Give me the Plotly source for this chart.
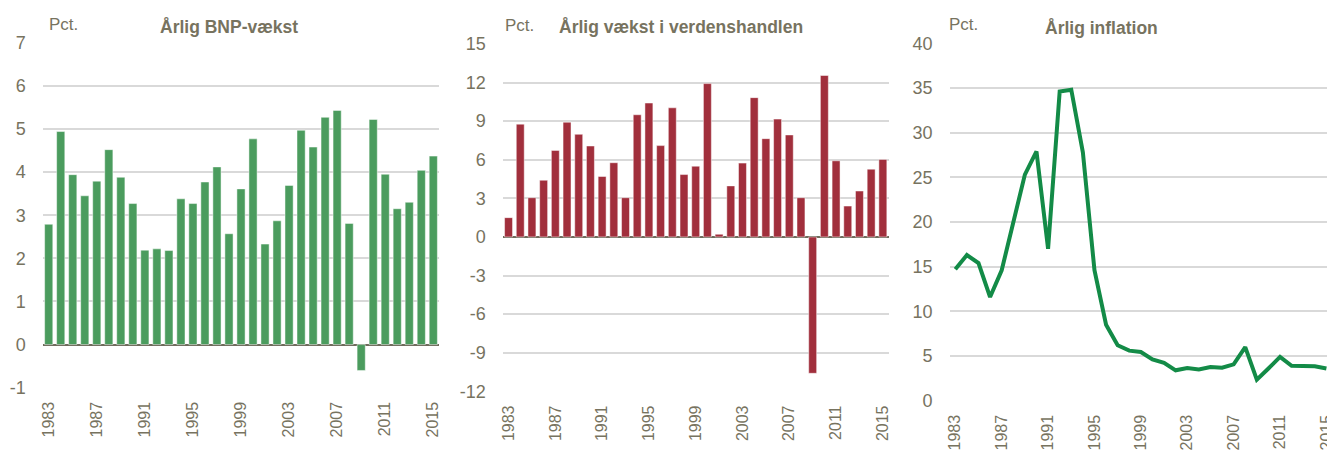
import plotly.graph_objects as go

years = list(range(1983, 2016))
gdp_growth = [2.79, 4.94, 3.94, 3.45, 3.79, 4.52, 3.88, 3.27, 2.19, 2.22, 2.18,
              3.38, 3.27, 3.77, 4.12, 2.57, 3.61, 4.77, 2.33, 2.87, 3.69, 4.97,
              4.58, 5.27, 5.43, 2.81, -0.60, 5.22, 3.95, 3.15, 3.30, 4.04, 4.37]
trade_growth = [1.5, 8.77, 3.05, 4.41, 6.73, 8.92, 7.98, 7.07, 4.70, 5.77, 3.05,
                9.50, 10.41, 7.10, 10.04, 4.85, 5.50, 11.92, 0.21, 3.97, 5.74, 10.83,
                7.64, 9.16, 7.93, 3.05, -10.6, 12.55, 5.92, 2.40, 3.57, 5.27, 6.03]
inflation = [14.7, 16.3, 15.4, 11.6, 14.6, 19.8, 25.3, 27.9, 17.0, 34.6, 34.8,
             27.8, 14.6, 8.5, 6.2, 5.6, 5.45, 4.63, 4.25, 3.4, 3.65, 3.5,
             3.77, 3.7, 4.07, 6.0, 2.35, 3.6, 4.9, 3.9, 3.85, 3.85, 3.6]
year_ticks = [1983, 1987, 1991, 1995, 1999, 2003, 2007, 2011, 2015]
year_labels = [str(y) for y in year_ticks]
gdp_ticks = [-1, 0, 1, 2, 3, 4, 5, 6, 7]
trade_ticks = [-12, -9, -6, -3, 0, 3, 6, 9, 12, 15]
infl_ticks = [0, 5, 10, 15, 20, 25, 30, 35, 40]
titles = ["Årlig BNP-vækst", "Årlig vækst i verdenshandlen", "Årlig inflation"]
unit_label = "Pct."

TXT = "#77735f"
GRID = "#d9d9d9"
ZERO = "#6f6b5c"
FONT = "Liberation Sans, Arial, sans-serif"
W, H = 1327, 450

fig = go.Figure()
fig.add_trace(go.Bar(x=years, y=gdp_growth, marker=dict(color="#4b9c5e", line=dict(color="rgba(255,255,255,0.6)", width=0.8)),
                     xaxis="x", yaxis="y", showlegend=False, hoverinfo="skip"))
fig.add_trace(go.Bar(x=years, y=trade_growth, marker=dict(color="#a12f3c", line=dict(color="rgba(255,255,255,0.6)", width=0.8)),
                     xaxis="x2", yaxis="y2", showlegend=False, hoverinfo="skip"))
fig.add_trace(go.Scatter(x=years, y=inflation, mode="lines", line=dict(color="#138b47", width=4),
                         xaxis="x3", yaxis="y3", showlegend=False, cliponaxis=False, hoverinfo="skip"))

def px_x(a, b):
    return [a / W, b / W]

def px_y(top, bottom):
    return [1 - bottom / H, 1 - top / H]

def ticktext(vals):
    return [str(v) for v in vals]

xcommon = dict(tickmode="array", tickvals=year_ticks, ticktext=year_labels, tickangle=-90,
               tickfont=dict(family=FONT, size=16, color=TXT), showgrid=False, zeroline=False,
               showline=False, ticks="", ticklabelstandoff=10, automargin=False,
               ticklabeloverflow="allow")
ycommon = dict(tickfont=dict(family=FONT, size=18, color=TXT), showgrid=True, gridcolor=GRID,
               gridwidth=1.5, showline=False, ticks="", ticklabelstandoff=16, automargin=False,
               tickmode="array")

fig.update_layout(
    width=W, height=H, margin=dict(l=0, r=0, t=0, b=0),
    paper_bgcolor="white", plot_bgcolor="white", bargap=0.32,
    xaxis=dict(domain=px_x(42.7, 439.3), range=[1982.5, 2015.5], anchor="y", **xcommon),
    xaxis2=dict(domain=px_x(502.7, 888.7), range=[1982.5, 2015.5], anchor="y2", **xcommon),
    xaxis3=dict(domain=px_x(949.5, 1327), range=[1982.5, 2015.05], anchor="y3", **xcommon),
    yaxis=dict(domain=px_y(42.7, 387.7), range=[-1, 7], tickvals=gdp_ticks, ticktext=ticktext(gdp_ticks),
               anchor="x", zeroline=True, zerolinecolor=ZERO, zerolinewidth=2, **ycommon),
    yaxis2=dict(domain=px_y(44, 391.3), range=[-12, 15], tickvals=trade_ticks, ticktext=ticktext(trade_ticks),
                anchor="x2", zeroline=True, zerolinecolor=ZERO, zerolinewidth=2, **ycommon),
    yaxis3=dict(domain=px_y(43.3, 400.7), range=[0, 40], tickvals=infl_ticks, ticktext=ticktext(infl_ticks),
                anchor="x3", zeroline=False, **ycommon),
)

pct_pos = [(47, 24), (503, 25), (947, 24)]
title_pos = [(158, 27), (557, 27), (1043, 28)]
for (px, py) in pct_pos:
    fig.add_annotation(text=unit_label, xref="paper", yref="paper", x=px / W, y=1 - py / H,
                       xanchor="left", yanchor="middle", showarrow=False,
                       font=dict(family=FONT, size=17, color=TXT))
for (px, py), t in zip(title_pos, titles):
    fig.add_annotation(text="<b>" + t + "</b>", xref="paper", yref="paper", x=px / W, y=1 - py / H,
                       xanchor="left", yanchor="middle", showarrow=False,
                       font=dict(family=FONT, size=17.5, color=TXT))

fig.write_html("out.html", config={"displayModeBar": False},
               post_script="document.body.style.margin='0';document.body.style.overflow='hidden';")
